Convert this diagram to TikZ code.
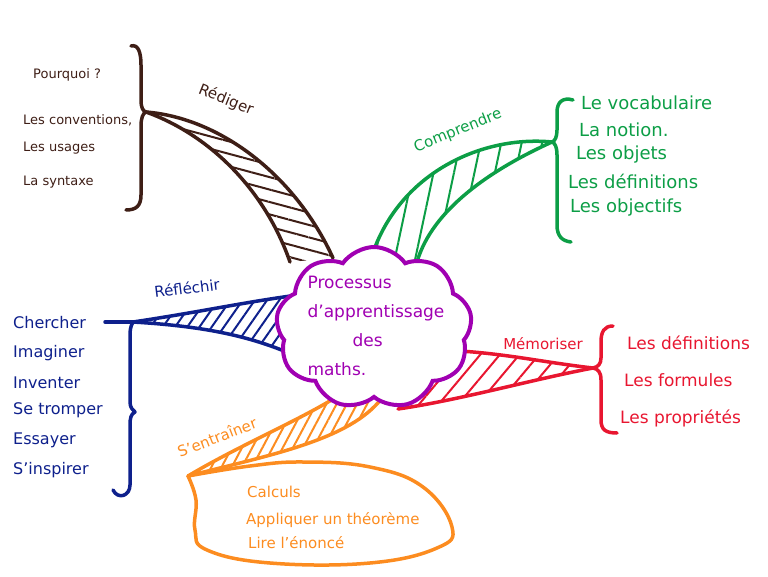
\documentclass[tikz,border=0pt]{standalone}
\usepackage{fontspec}
\setmainfont{DejaVu Sans}
\usetikzlibrary{shapes.symbols,patterns.meta}

\definecolor{brun}{RGB}{62,30,22}
\definecolor{vert}{RGB}{12,158,70}
\definecolor{violet}{RGB}{160,0,178}
\definecolor{bleu}{RGB}{14,32,140}
\definecolor{rouge}{RGB}{232,22,48}
\definecolor{orangec}{RGB}{252,140,32}

\tikzset{
  leaf/.style={anchor=west, inner sep=1pt, font=\fontsize{16}{18}\selectfont},
  branch/.style={inner sep=0pt, font=\fontsize{15}{17}\selectfont},
  edge/.style={line width=3.5pt, line cap=round, line join=round},
  hatch/.style 2 args={pattern={Lines[angle=#1, distance=#2, line width=2pt]}},
}

\begin{document}
\begin{tikzpicture}[x=1pt, y=-1pt]
\useasboundingbox (0,0) rectangle (768,577);

% Rediger
\coordinate (redTip) at (146,112);
\fill[hatch={-15}{12pt}, pattern color=brun] (redTip) .. controls (220,118) and (295,175) .. (333,258) -- (290,262) .. controls (265,190) and (210,135) .. (redTip);
\draw[edge, brun] (redTip) .. controls (220,118) and (295,175) .. (333,258);
\draw[edge, brun] (redTip) .. controls (210,135) and (265,190) .. (290,262);
\draw[edge, brun] (131,46) .. controls (138,44) and (141,52) .. (141,65) -- (141,100) .. controls (141,108) and (143,111) .. (redTip) .. controls (143,113) and (141,118) .. (141,126) -- (141,195) .. controls (141,206) and (136,210) .. (126,210);
\node[branch, brun, rotate=-22] (rediger) at (226,100) {Rédiger};
\node[leaf, brun, font=\fontsize{13}{15}\selectfont] (r1) at (32,75) {Pourquoi ?};
\node[leaf, brun, font=\fontsize{13}{15}\selectfont] (r2) at (22,120) {Les conventions,};
\node[leaf, brun, font=\fontsize{13}{15}\selectfont] (r3) at (22,148) {Les usages};
\node[leaf, brun, font=\fontsize{13}{15}\selectfont] (r4) at (22,182) {La syntaxe};

% Comprendre
\coordinate (comTip) at (552,142);
\fill[hatch={78}{20pt}, pattern color=vert] (comTip) .. controls (480,135) and (395,175) .. (370,262) -- (417,262) .. controls (432,210) and (490,170) .. (comTip);
\draw[edge, vert] (comTip) .. controls (480,135) and (395,175) .. (370,262);
\draw[edge, vert] (comTip) .. controls (490,170) and (432,210) .. (417,262);
\draw[edge, vert] (573,100) .. controls (563,97) and (557,102) .. (557,112) -- (557,130) .. controls (557,137) and (555,141) .. (comTip) .. controls (555,143) and (557,147) .. (557,155) -- (557,225) .. controls (557,236) and (562,241) .. (571,242);
\node[branch, vert, rotate=22] (comprendre) at (458,131) {Comprendre};
\node[leaf, vert, font=\fontsize{18}{20}\selectfont] (c1) at (580,103) {Le vocabulaire};
\node[leaf, vert, font=\fontsize{18}{20}\selectfont] (c2) at (578,130) {La notion.};
\node[leaf, vert, font=\fontsize{18}{20}\selectfont] (c3) at (575,155) {Les objets};
\node[leaf, vert, font=\fontsize{18}{20}\selectfont] (c4) at (567,181) {Les définitions};
\node[leaf, vert, font=\fontsize{18}{20}\selectfont] (c5) at (569,208) {Les objectifs};

% Reflechir
\coordinate (refTip) at (133,322);
\coordinate (refEnd) at (105,322);
\fill[hatch={55}{10pt}, pattern color=bleu] (refTip) .. controls (200,312) and (245,302) .. (298,295) -- (298,357) .. controls (250,335) and (200,326) .. (refTip);
\draw[edge, bleu] (refTip) .. controls (200,312) and (245,302) .. (298,295);
\draw[edge, bleu] (refTip) .. controls (200,326) and (250,335) .. (298,357);
\draw[edge, bleu] (refEnd) -- (refTip);
\draw[edge, bleu] (refTip) .. controls (130,328) .. (130,345) -- (130,402) .. controls (130,408) and (133,410) .. (135,412) .. controls (131,414) and (130,418) .. (130,425) -- (130,485) .. controls (130,496) and (118,500) .. (113,490);
\node[branch, bleu, rotate=7] (reflechir) at (187,288) {Réfléchir};
\node[leaf, bleu] (b1) at (12,323) {Chercher};
\node[leaf, bleu] (b2) at (12,353) {Imaginer};
\node[leaf, bleu] (b3) at (12,383) {Inventer};
\node[leaf, bleu] (b4) at (12,410) {Se tromper};
\node[leaf, bleu] (b5) at (12,440) {Essayer};
\node[leaf, bleu] (b6) at (12,470) {S'inspirer};

% Memoriser
\coordinate (memTip) at (593,368);
\fill[hatch={50}{15pt}, pattern color=rouge] (memTip) .. controls (540,362) and (500,352) .. (440,350) -- (420,372) -- (398,409) .. controls (460,400) and (530,380) .. (memTip);
\draw[edge, rouge] (memTip) .. controls (540,362) and (500,352) .. (440,350);
\draw[edge, rouge] (memTip) .. controls (530,380) and (460,400) .. (398,409);
\draw[edge, rouge] (613,326) .. controls (604,326) and (601,332) .. (601,342) -- (601,358) .. controls (601,364) and (598,367) .. (memTip) .. controls (598,369) and (601,372) .. (601,380) -- (601,420) .. controls (601,430) and (606,433) .. (617,433);
\node[branch, rouge] (memoriser) at (543,344) {Mémoriser};
\node[leaf, rouge, font=\fontsize{17}{19}\selectfont] (m1) at (626,343) {Les définitions};
\node[leaf, rouge, font=\fontsize{17}{19}\selectfont] (m2) at (623,380) {Les formules};
\node[leaf, rouge, font=\fontsize{17}{19}\selectfont] (m3) at (619,418) {Les propriétés};

% S'entrainer
\coordinate (entTip) at (188,476);
\fill[hatch={62}{9pt}, pattern color=orangec] (entTip) .. controls (240,445) and (300,420) .. (338,396) -- (382,398) .. controls (350,440) and (270,455) .. (entTip);
\draw[edge, orangec] (entTip) .. controls (240,445) and (300,420) .. (338,396);
\draw[edge, orangec] (entTip) .. controls (270,455) and (350,440) .. (382,398);
\draw[edge, orangec] plot[smooth, tension=0.7] coordinates {(188,476) (250,466) (303,462) (370,467) (423,487) (452,527) (437,548) (370,563) (270,563) (207,550) (195,530) (196,500) (188,476)};
\node[branch, orangec, rotate=21] (entrainer) at (217,437) {S'entraîner};
\node[leaf, orangec, font=\fontsize{15}{17}\selectfont] (o1) at (246,492) {Calculs};
\node[leaf, orangec, font=\fontsize{15}{17}\selectfont] (o2) at (245,520) {Appliquer un théorème};
\node[leaf, orangec, font=\fontsize{15}{17}\selectfont] (o3) at (247,543) {Lire l'énoncé};

% centre
\node[cloud, cloud puffs=9, cloud puff arc=110, draw=violet, line width=4pt, fill=white, minimum width=196pt, minimum height=162pt] (proc) at (374,328) {};
\node[violet, align=left, font=\fontsize{17}{29}\selectfont] (titre) at (376,326) {Processus\\d'apprentissage\\\hspace*{45pt}des\\maths.};
\end{tikzpicture}
\end{document}
